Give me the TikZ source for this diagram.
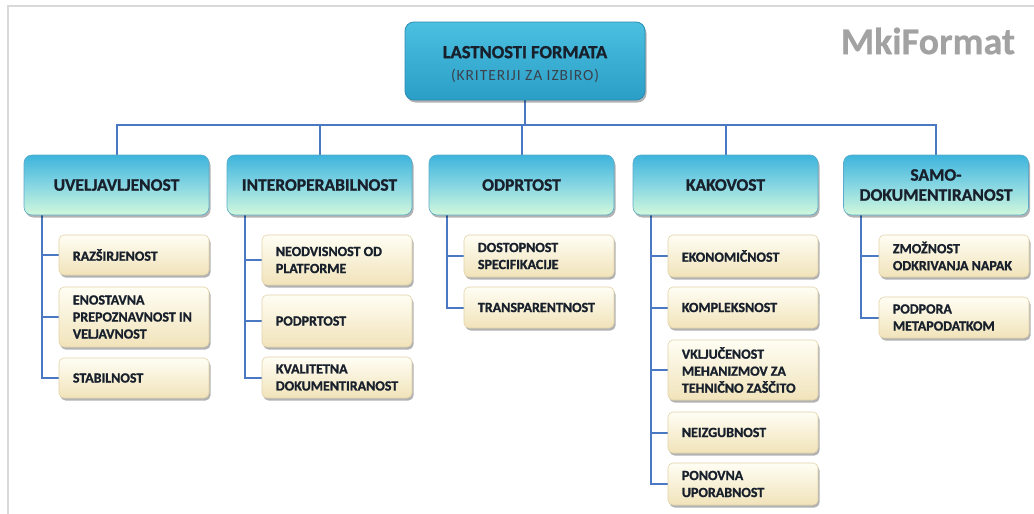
\documentclass[tikz,border=0pt]{standalone}
\usepackage{fontspec}
\setmainfont[BoldFeatures={FakeBold=1.2}]{Carlito}
\newfontfamily\logofont[BoldFeatures={FakeBold=0.5}]{Carlito}
\usetikzlibrary{shadows,backgrounds}

\definecolor{linkblue}{HTML}{4A78C2}
\definecolor{ink}{HTML}{18202C}
\definecolor{framegray}{HTML}{D9D9D9}
\definecolor{toptop}{HTML}{4CC0E0}
\definecolor{topbot}{HTML}{2A9EC6}
\definecolor{topedge}{HTML}{2B8CB4}
\definecolor{cattop}{HTML}{3DB4DC}
\definecolor{catmid}{HTML}{86D6E2}
\definecolor{catbot}{HTML}{D2F8DC}
\definecolor{catedge}{HTML}{5AAACB}
\definecolor{kidtop}{HTML}{FFFEF4}
\definecolor{kidbot}{HTML}{F1E3BA}
\definecolor{kidedge}{HTML}{E2D3A8}
\definecolor{logogray}{HTML}{A2A2A2}

\tikzset{
  link/.style={draw=linkblue, line width=2pt},
  softshadow/.style={drop shadow={shadow xshift=1.5pt, shadow yshift=-2.5pt, opacity=.3, fill=black}},
  topbox/.style={rounded corners=9pt, draw=topedge, line width=.8pt,
    top color=toptop, bottom color=topbot, minimum width=240pt, minimum height=78pt,
    align=center, text=ink, softshadow, font=\fontsize{17}{21}\selectfont},
  catbox/.style={rounded corners=8pt, draw=catedge, line width=.6pt,
    top color=cattop, bottom color=catbot, middle color=catmid,
    minimum width=185pt, minimum height=60pt, align=center, text=ink,
    font=\fontsize{17.5}{20}\selectfont\bfseries, softshadow},
  kidbox/.style={rounded corners=5pt, draw=kidedge, line width=.6pt,
    top color=kidtop, bottom color=kidbot, minimum width=150pt, softshadow},
  kidtext/.style={anchor=west, align=left, inner sep=0pt, text=ink,
    font=\fontsize{14}{17}\selectfont\bfseries},
}

% child box: name, left x, top y, bottom y, text
\newcommand\kidnode[5]{%
  \node[kidbox, minimum height={#4-#3}] (#1) at ({#2+75},{(#3+#4)/2}) {};
  \node[kidtext] (#1t) at ([xshift=14pt]#1.west) {#5};}

\begin{document}
\begin{tikzpicture}[x=1pt,y=-1pt]
\useasboundingbox (0,0) rectangle (1034,514);
\begin{scope}[on background layer]
  \fill[white] (0,0) rectangle (1034,514);
  \draw[framegray, line width=2pt] (7.5,514) -- (7.5,5.5) -- (1034,5.5);
\end{scope}

% heading
\node[topbox] (top) at (525,61)
  {{\fontsize{18.5}{22}\selectfont\bfseries\rule{0pt}{19pt}LASTNOSTI FORMATA}\\[1.5pt]
   {\fontsize{15.5}{18}\selectfont\addfontfeature{LetterSpace=6}\color{ink!85}(KRITERIJI ZA IZBIRO)}};

\node[font=\fontsize{38}{42}\selectfont\logofont\bfseries, text=logogray] (logo) at (928,41) {MkiFormat};

% categories
\node[catbox] (c1) at (116.5,185) {UVELJAVLJENOST};
\node[catbox] (c2) at (319.5,185) {INTEROPERABILNOST};
\node[catbox] (c3) at (521.5,185) {ODPRTOST};
\node[catbox] (c4) at (725.5,185) {KAKOVOST};
\node[catbox] (c5) at (936,185) {SAMO-\\DOKUMENTIRANOST};

% sub-criteria
\kidnode{k11}{59}{235}{275}{RAZŠIRJENOST}
\kidnode{k12}{59}{287}{347}{ENOSTAVNA\\PREPOZNAVNOST IN\\VELJAVNOST}
\kidnode{k13}{59}{358}{398}{STABILNOST}

\kidnode{k21}{262}{235}{285}{NEODVISNOST OD\\PLATFORME}
\kidnode{k22}{262}{295}{347}{PODPRTOST}
\kidnode{k23}{262}{357}{398}{KVALITETNA\\DOKUMENTIRANOST}

\kidnode{k31}{464}{235}{277}{DOSTOPNOST\\SPECIFIKACIJE}
\kidnode{k32}{464}{287}{328}{TRANSPARENTNOST}

\kidnode{k41}{668}{235}{277}{EKONOMIČNOST}
\kidnode{k42}{668}{287}{328}{KOMPLEKSNOST}
\kidnode{k43}{668}{340}{400}{VKLJUČENOST\\MEHANIZMOV ZA\\TEHNIČNO ZAŠČITO}
\kidnode{k44}{668}{412}{453}{NEIZGUBNOST}
\kidnode{k45}{668}{463}{505}{PONOVNA\\UPORABNOST}

\kidnode{k51}{879}{235}{277}{ZMOŽNOST\\ODKRIVANJA NAPAK}
\kidnode{k52}{879}{297}{338}{PODPORA\\METAPODATKOM}

% connectors, kept behind the boxes
\begin{scope}[on background layer]
  \draw[link] (top.south) -- ([yshift=-25pt]top.south) coordinate (bus);
  \draw[link] (c1.north) |- (bus) -| (c5.north);
  \foreach \c in {c2,c3,c4} \draw[link] (\c.north) -- (\c.north |- bus);

  \coordinate (b1) at ([xshift=18pt]c1.south west);
  \coordinate (b2) at ([xshift=18pt]c2.south west);
  \coordinate (b3) at ([xshift=18pt]c3.south west);
  \coordinate (b4) at ([xshift=18pt]c4.south west);
  \coordinate (b5) at ([xshift=18pt]c5.south west);
  \foreach \k in {k11,k12,k13} \draw[link] (b1) |- (\k.west);
  \foreach \k in {k21,k22,k23} \draw[link] (b2) |- (\k.west);
  \foreach \k in {k31,k32} \draw[link] (b3) |- (\k.west);
  \foreach \k in {k41,k42,k43,k44,k45} \draw[link] (b4) |- (\k.west);
  \foreach \k in {k51,k52} \draw[link] (b5) |- (\k.west);
\end{scope}
\end{tikzpicture}
\end{document}
